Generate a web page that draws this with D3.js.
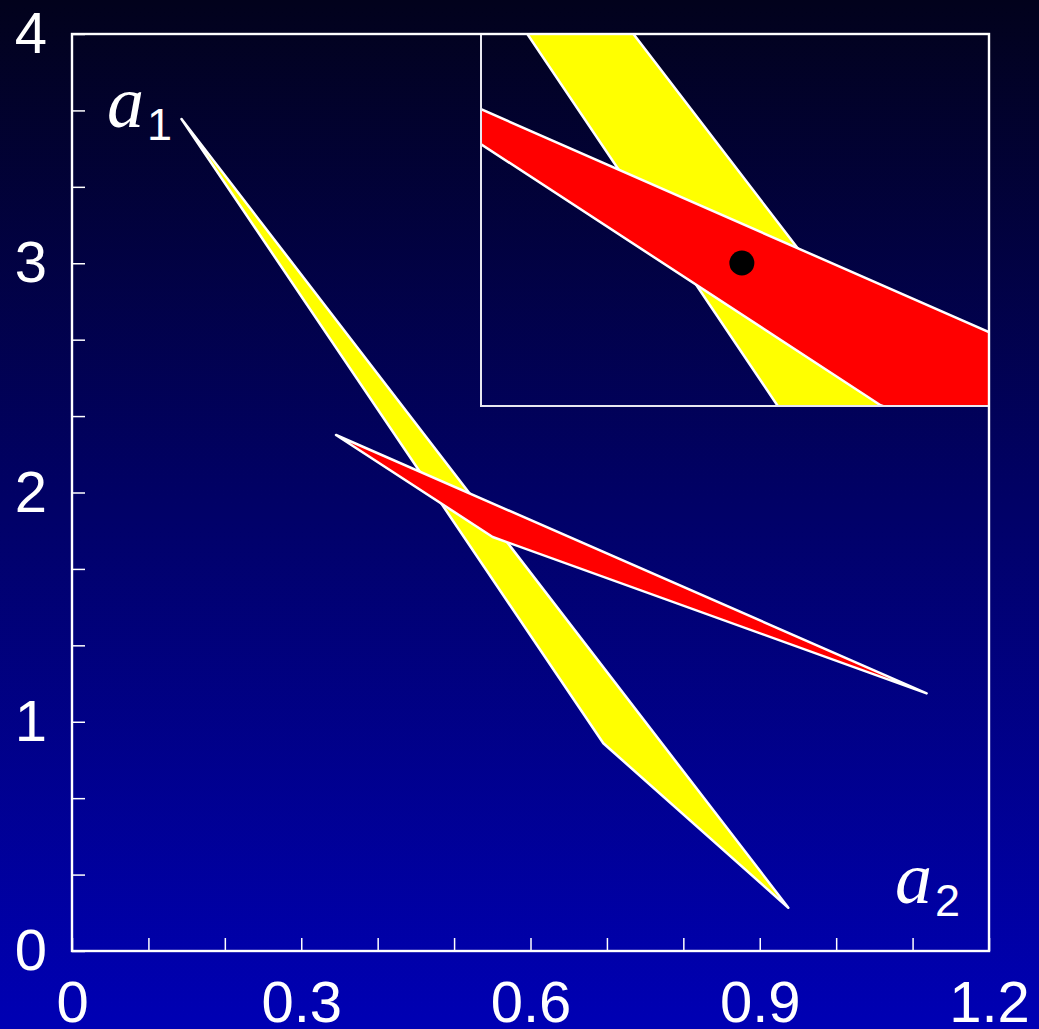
<!DOCTYPE html>
<html>
<head>
<meta charset="utf-8">
<script src="https://cdn.jsdelivr.net/npm/d3@7"></script>
<style>
    html, body { margin: 0; padding: 0; background: #000040; }
    svg { display: block; }
</style>
</head>
<body>
<svg id="chart"></svg>
<script>

// Corners of the two regions (a2 across, a1 up)
var yellowA2 = [0.1433, 0.9374, 0.6953];
var yellowA1 = [3.6293, 0.1889, 0.9060];
var redA2 = [0.3455, 1.1184, 0.5505];
var redA1 = [2.2508, 1.1239, 1.806];

// Point marked in the zoomed box
var pointA2 = [0.5];
var pointA1 = [1.978];

// Axis ticks and labels
var xTicks = [0, 0.1, 0.2, 0.3, 0.4, 0.5, 0.6, 0.7, 0.8, 0.9, 1.0, 1.1, 1.2];
var xLabels = [0, 0.3, 0.6, 0.9, 1.2];
var yTicks = [0, 1 / 3, 2 / 3, 1, 4 / 3, 5 / 3, 2, 7 / 3, 8 / 3, 3, 10 / 3, 11 / 3, 4];
var yLabels = [0, 1, 2, 3, 4];

// Window shown in the zoomed box
var zoomA2 = [0.405, 0.59];
var zoomA1 = [1.805, 2.255];

var width = 1039, height = 1029;
var plotLeft = 72, plotRight = 989, plotTop = 34, plotBottom = 951;

var svg = d3.select("#chart")
    .attr("width", width)
    .attr("height", height);

// background gradient
var defs = svg.append("defs");
var grad = defs.append("linearGradient")
    .attr("id", "bg")
    .attr("x1", 0).attr("y1", 0)
    .attr("x2", 0).attr("y2", 1);
grad.append("stop").attr("offset", "0%").attr("stop-color", "#02021c");
grad.append("stop").attr("offset", "100%").attr("stop-color", "#0000b4");

svg.append("rect")
    .attr("width", width)
    .attr("height", height)
    .attr("fill", "url(#bg)");

// main scales
var x = d3.scaleLinear().domain([0, 1.2]).range([plotLeft, plotRight]);
var y = d3.scaleLinear().domain([0, 4]).range([plotBottom, plotTop]);

// zoom box scales
var boxLeft = 481, boxBottom = 406;
var xi = d3.scaleLinear().domain(zoomA2).range([boxLeft, plotRight]);
var yi = d3.scaleLinear().domain(zoomA1).range([boxBottom, plotTop]);

function corners(a2, a1) {
    return a2.map(function (v, i) { return [v, a1[i]]; });
}

var regions = [
    { pts: corners(yellowA2, yellowA1), color: "#ffff00" },
    { pts: corners(redA2, redA1), color: "#ff0000" }
];

function drawRegions(g, xs, ys) {
    var line = d3.line()
        .x(function (d) { return xs(d[0]); })
        .y(function (d) { return ys(d[1]); })
        .curve(d3.curveLinearClosed);

    g.selectAll("path.region")
        .data(regions)
        .enter().append("path")
        .attr("class", "region")
        .attr("d", function (d) { return line(d.pts); })
        .attr("fill", function (d) { return d.color; })
        .attr("stroke", "#ffffff")
        .attr("stroke-width", 2.5)
        .attr("stroke-linejoin", "round");
}

// main regions
drawRegions(svg.append("g"), x, y);

// zoomed box
defs.append("clipPath")
    .attr("id", "boxclip")
    .append("rect")
    .attr("x", boxLeft)
    .attr("y", plotTop)
    .attr("width", plotRight - boxLeft)
    .attr("height", boxBottom - plotTop);

var box = svg.append("g").attr("clip-path", "url(#boxclip)");
drawRegions(box, xi, yi);

box.selectAll("circle")
    .data(corners(pointA2, pointA1))
    .enter().append("circle")
    .attr("cx", function (d) { return xi(d[0]); })
    .attr("cy", function (d) { return yi(d[1]); })
    .attr("r", 12.5)
    .attr("fill", "#000000");

svg.append("rect")
    .attr("x", boxLeft)
    .attr("y", plotTop)
    .attr("width", plotRight - boxLeft)
    .attr("height", boxBottom - plotTop)
    .attr("fill", "none")
    .attr("stroke", "#e8e8f0")
    .attr("stroke-width", 2);

// axes, ticks point inward
var xAxis = d3.axisBottom(x)
    .tickValues(xTicks)
    .tickSizeInner(-13)
    .tickSizeOuter(0)
    .tickPadding(30)
    .tickFormat(function (d) { return xLabels.indexOf(d) >= 0 ? String(d) : ""; });

var yAxis = d3.axisLeft(y)
    .tickValues(yTicks)
    .tickSizeInner(-13)
    .tickSizeOuter(0)
    .tickPadding(25)
    .tickFormat(function (d) { return yLabels.indexOf(d) >= 0 ? String(d) : ""; });

var gx = svg.append("g")
    .attr("transform", "translate(0," + plotBottom + ")")
    .call(xAxis);

var gy = svg.append("g")
    .attr("transform", "translate(" + plotLeft + ",0)")
    .call(yAxis);

[gx, gy].forEach(function (g) {
    g.select(".domain").remove();
    g.attr("font-family", "'Liberation Sans', Arial, sans-serif")
        .attr("font-size", 58);
    g.selectAll(".tick line")
        .attr("stroke", "#ffffff")
        .attr("stroke-width", 1.5);
    g.selectAll(".tick text")
        .attr("fill", "#ffffff");
});

// plot frame
svg.append("rect")
    .attr("x", plotLeft)
    .attr("y", plotTop)
    .attr("width", plotRight - plotLeft)
    .attr("height", plotBottom - plotTop)
    .attr("fill", "none")
    .attr("stroke", "#ffffff")
    .attr("stroke-width", 2.4);

// axis names a1, a2
var axisNames = [
    { sub: "1", x: 107, y: 127 },
    { sub: "2", x: 895, y: 903 }
];

var nameText = svg.selectAll("text.axisname")
    .data(axisNames)
    .enter().append("text")
    .attr("class", "axisname")
    .attr("x", function (d) { return d.x; })
    .attr("y", function (d) { return d.y; })
    .attr("fill", "#ffffff");

nameText.append("tspan")
    .attr("font-family", "'Liberation Serif', 'Times New Roman', serif")
    .attr("font-style", "italic")
    .attr("font-size", 74)
    .text("a");

nameText.append("tspan")
    .attr("font-family", "'Liberation Sans', Arial, sans-serif")
    .attr("font-size", 45)
    .attr("dx", 3)
    .attr("dy", 13)
    .text(function (d) { return d.sub; });

</script>
</body>
</html>
